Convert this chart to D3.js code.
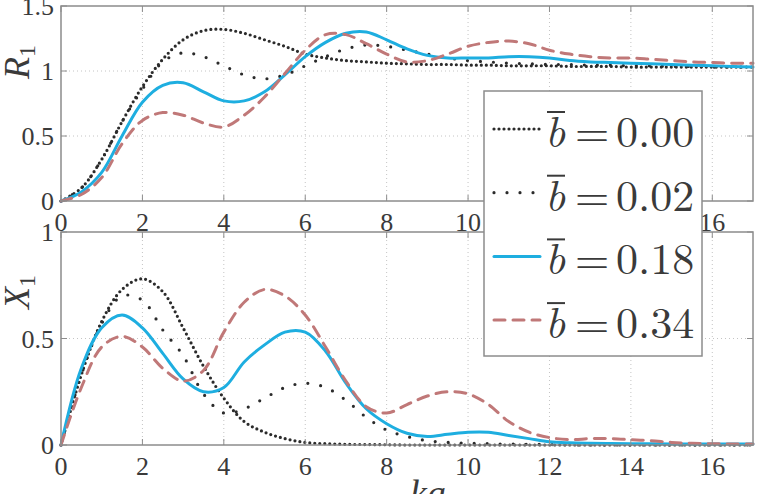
<!DOCTYPE html>
<html>
<head>
<meta charset="utf-8">
<script src="https://cdn.jsdelivr.net/npm/d3@7"></script>
<style>
  body { margin: 0; background: #fff; }
</style>
</head>
<body>
<svg id="svg1" width="765" height="494"></svg>
<script>
// ka samples 0, 0.5, ... 17
var ka = d3.range(0, 17.01, 0.5);

// R1 (top panel)
var R_000 = [0,0.10,0.32,0.61,0.88,1.09,1.24,1.31,1.32,1.29,1.24,1.19,1.13,1.10,1.08,1.07,1.06,1.055,1.05,1.05,1.045,1.045,1.04,1.04,1.04,1.035,1.035,1.035,1.03,1.03,1.03,1.03,1.03,1.03,1.03];
var R_002 = [0,0.10,0.32,0.61,0.86,1.07,1.14,1.11,1.04,0.97,0.94,0.97,1.04,1.11,1.17,1.20,1.19,1.16,1.13,1.10,1.08,1.07,1.06,1.055,1.05,1.05,1.045,1.045,1.04,1.04,1.035,1.035,1.03,1.03,1.03];
var R_018 = [0,0.07,0.22,0.50,0.76,0.89,0.91,0.84,0.77,0.77,0.84,0.97,1.11,1.22,1.29,1.30,1.24,1.17,1.12,1.10,1.10,1.10,1.11,1.11,1.10,1.08,1.07,1.065,1.06,1.055,1.05,1.045,1.04,1.035,1.03];
var R_034 = [0,0.05,0.18,0.44,0.62,0.68,0.66,0.60,0.57,0.66,0.80,0.98,1.16,1.28,1.28,1.21,1.13,1.07,1.08,1.13,1.19,1.22,1.23,1.21,1.16,1.13,1.11,1.10,1.10,1.09,1.08,1.07,1.065,1.06,1.06];

// X1 (bottom panel)
var X_000 = [0,0.33,0.58,0.73,0.78,0.72,0.55,0.37,0.22,0.11,0.06,0.03,0.012,0.006,0.003,0.002,0.001,0,0,0,0,0,0,0,0,0,0,0,0,0,0,0,0,0,0];
var X_002 = [0,0.33,0.57,0.70,0.68,0.54,0.42,0.24,0.15,0.17,0.22,0.27,0.29,0.27,0.21,0.13,0.07,0.04,0.02,0.012,0.008,0.006,0.004,0.003,0.002,0.001,0,0,0,0,0,0,0,0,0];
var X_018 = [0,0.36,0.55,0.61,0.55,0.43,0.31,0.25,0.27,0.39,0.47,0.53,0.53,0.44,0.29,0.17,0.10,0.055,0.04,0.05,0.06,0.06,0.045,0.03,0.015,0.01,0.008,0.007,0.006,0.006,0.005,0.005,0.005,0.005,0.005];
var X_034 = [0,0.27,0.46,0.51,0.46,0.36,0.30,0.35,0.53,0.67,0.73,0.70,0.61,0.46,0.30,0.18,0.15,0.19,0.23,0.25,0.24,0.19,0.11,0.06,0.035,0.025,0.03,0.03,0.025,0.02,0.012,0.008,0.006,0.005,0.005];

var legendLabels = ["0.00", "0.02", "0.18", "0.34"];
var xTicks = [0, 2, 4, 6, 8, 10, 12, 14, 16];
var rTicks = [0, 0.5, 1, 1.5];
var xiTicks = [0, 0.5, 1];

var styles = [
  {color: "#2b2b2b", width: 3.2, dash: "0,5"},
  {color: "#2b2b2b", width: 3.2, dash: "0,13"},
  {color: "#1eaee0", width: 3, dash: null},
  {color: "#c07878", width: 3, dash: "11,8"}
];

var times = "'Liberation Serif'";
var latex = "'Latin Modern Roman'";
var svg = d3.select("#svg1");

var x = d3.scaleLinear().domain([0, 17]).range([61, 753]);

// shift text by its measured width instead of using text-anchor
function anchor(sel, mode) {
  sel.each(function() {
    var w = this.getComputedTextLength();
    var x0 = +this.getAttribute("x");
    this.setAttribute("x", x0 - (mode === "middle" ? w / 2 : w));
  });
}

function panel(y0, y1, yMax, yTicks, series, label, labY) {
  var y = d3.scaleLinear().domain([0, yMax]).range([y1, y0]);
  var g = svg.append("g");

  // grid
  g.selectAll(".gx").data(xTicks.slice(1)).enter().append("line")
    .attr("x1", x).attr("x2", x).attr("y1", y0).attr("y2", y1)
    .attr("stroke", "#c4c4c4").attr("stroke-width", 1).attr("stroke-dasharray", "1,3");
  g.selectAll(".gy").data(yTicks.slice(1, -1)).enter().append("line")
    .attr("x1", 61).attr("x2", 753).attr("y1", y).attr("y2", y)
    .attr("stroke", "#c4c4c4").attr("stroke-width", 1).attr("stroke-dasharray", "1,3");

  // curves
  var line = d3.line()
    .x(function(d, i) { return x(ka[i]); })
    .y(function(d) { return y(d); })
    .curve(d3.curveCatmullRom);
  series.forEach(function(s, k) {
    g.append("path")
      .attr("d", line(s))
      .attr("fill", "none")
      .attr("stroke", styles[k].color)
      .attr("stroke-width", styles[k].width)
      .attr("stroke-linecap", "round")
      .attr("stroke-dasharray", styles[k].dash);
  });

  // frame + inward ticks
  g.append("rect").attr("x", 61).attr("y", y0).attr("width", 692).attr("height", y1 - y0)
    .attr("fill", "none").attr("stroke", "#8c8c8c").attr("stroke-width", 1.5);
  xTicks.forEach(function(t) {
    g.append("line").attr("x1", x(t)).attr("x2", x(t)).attr("y1", y1).attr("y2", y1 - 6).attr("stroke", "#8c8c8c");
    g.append("line").attr("x1", x(t)).attr("x2", x(t)).attr("y1", y0).attr("y2", y0 + 6).attr("stroke", "#8c8c8c");
  });
  yTicks.forEach(function(t) {
    g.append("line").attr("x1", 61).attr("x2", 67).attr("y1", y(t)).attr("y2", y(t)).attr("stroke", "#8c8c8c");
    g.append("line").attr("x1", 753).attr("x2", 747).attr("y1", y(t)).attr("y2", y(t)).attr("stroke", "#8c8c8c");
  });

  // tick labels
  g.selectAll(".tx").data(xTicks).enter().append("text")
    .attr("x", x).attr("y", y1 + 30)
    .style("font-family", times).attr("fill", "#3a3a3a")
    .attr("font-size", 26).text(function(d) { return String(d); })
    .call(anchor, "middle");
  g.selectAll(".ty").data(yTicks).enter().append("text")
    .attr("x", 54).attr("y", function(d) { return y(d) + 9; })
    .style("font-family", times).attr("fill", "#3a3a3a")
    .attr("font-size", 26).text(function(d) { return String(d); })
    .call(anchor, "end");

  // y label
  var lab = g.append("text")
    .attr("x", 0).attr("y", 0)
    .attr("transform", "translate(29," + labY + ") rotate(-90)")
    .style("font-family", times).attr("fill", "#3a3a3a")
    .attr("font-size", 36);
  lab.append("tspan").attr("font-style", "italic").text(label);
  lab.append("tspan").attr("font-size", 24).attr("dy", 6).text("1");
  lab.call(anchor, "middle");
  return y;
}

panel(6, 201, 1.5, rTicks, [R_000, R_002, R_018, R_034], "R", 62);
panel(232, 445, 1, xiTicks, [X_000, X_002, X_018, X_034], "X", 292);

// x label
svg.append("text").attr("x", 428).attr("y", 506)
  .style("font-family", times).attr("fill", "#3a3a3a")
  .attr("font-size", 38).attr("font-style", "italic").text("ka")
  .call(anchor, "middle");

// legend
var leg = svg.append("g");
leg.append("rect").attr("x", 484).attr("y", 91).attr("width", 218).attr("height", 265)
  .attr("fill", "#fff").attr("stroke", "#8c8c8c").attr("stroke-width", 1.5);
legendLabels.forEach(function(t, i) {
  var base = 147 + 63.7 * i;
  leg.append("line").attr("x1", 494).attr("x2", 540).attr("y1", base - 18).attr("y2", base - 18)
    .attr("stroke", styles[i].color).attr("stroke-width", styles[i].width)
    .attr("stroke-linecap", "round").attr("stroke-dasharray", styles[i].dash);
  leg.append("text").attr("x", 545).attr("y", base).attr("font-size", 44).attr("fill", "#3a3a3a")
    .style("font-family", latex).attr("font-style", "italic").text("b");
  leg.append("line").attr("x1", 547).attr("x2", 565).attr("y1", base - 35).attr("y2", base - 35)
    .attr("stroke", "#3a3a3a").attr("stroke-width", 2);
  leg.append("text").attr("x", 575).attr("y", base).attr("font-size", 44).attr("fill", "#3a3a3a")
    .style("font-family", latex).text("=");
  leg.append("text").attr("x", 616).attr("y", base).attr("font-size", 44).attr("fill", "#3a3a3a")
    .style("font-family", latex).text(t);
});
</script>
</body>
</html>
